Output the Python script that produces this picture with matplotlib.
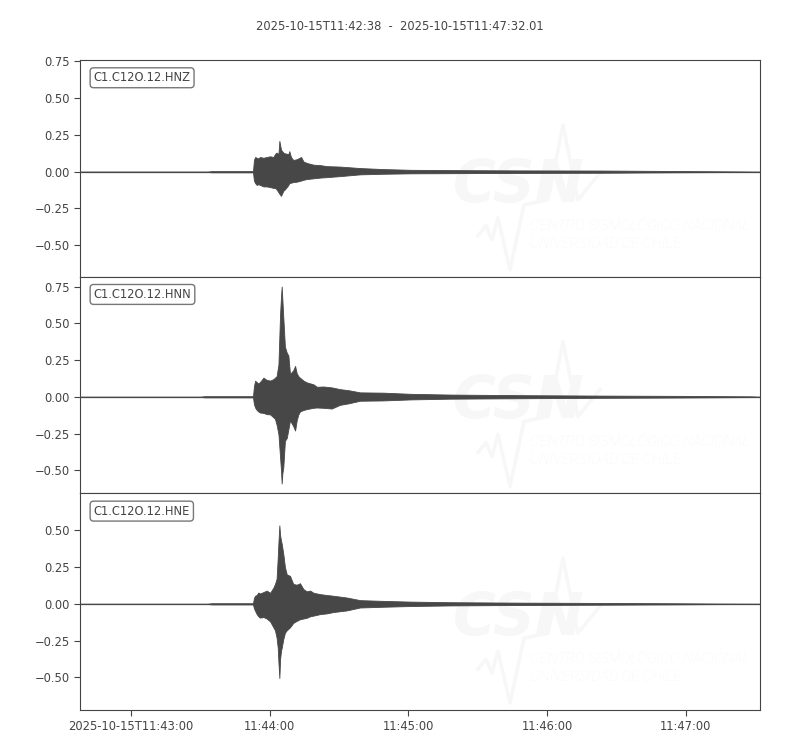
import matplotlib.pyplot as plt

# envelope of each trace
# time in seconds after 2025-10-15T11:42:38, amplitude in trace units
CHANNELS = ["C1.C12O.12.HNZ", "C1.C12O.12.HNN", "C1.C12O.12.HNE"]

hnz_t = [0, 55, 57, 74.8, 75.2, 75.7, 76.4, 77.1, 77.8, 79.3, 80.7, 82.2, 83.6, 84.3,
         85.0, 85.8, 86.2, 86.9, 87.9, 88.6, 90.1, 90.5, 91.2, 92.2, 93.7, 95.6, 96.6,
         98.0, 100.9, 103.8, 106.7, 112.4, 121.1, 131, 143, 160, 190, 225, 256, 285, 294.01]
hnz_up = [0.001, 0.001, 0.004, 0.004, 0.08, 0.10, 0.095, 0.09, 0.10, 0.095, 0.10, 0.105, 0.10, 0.12,
          0.13, 0.12, 0.21, 0.15, 0.13, 0.125, 0.12, 0.14, 0.10, 0.08, 0.085, 0.10, 0.07,
          0.06, 0.048, 0.045, 0.038, 0.035, 0.025, 0.018, 0.013, 0.011, 0.009, 0.008, 0.005, 0.002, 0.001]
hnz_lo = [-0.001, -0.001, -0.004, -0.004, -0.06, -0.077, -0.09, -0.085, -0.09, -0.10, -0.10, -0.105, -0.11, -0.11,
          -0.12, -0.14, -0.15, -0.164, -0.13, -0.12, -0.09, -0.077, -0.075, -0.07, -0.068, -0.06, -0.055,
          -0.05, -0.045, -0.04, -0.037, -0.03, -0.018, -0.014, -0.011, -0.01, -0.008, -0.007, -0.004, -0.002, -0.001]

hnn_t = [0, 52, 54, 74.8, 75.2, 75.7, 76.4, 77.1, 77.8, 79.3, 80.7, 82.2, 83.6, 84.3, 85.0,
         85.8, 86.5, 86.9, 87.2, 87.5, 87.9, 88.6, 89.4, 90.1, 90.8, 92.2, 93.0, 93.7, 94.4,
         95.1, 96.6, 98.0, 100.9, 102.4, 105.2, 108.8, 112.4, 116, 121.1, 131, 143, 160, 190,
         225, 260, 290, 294.01]
hnn_up = [0.001, 0.001, 0.004, 0.004, 0.07, 0.109, 0.10, 0.09, 0.10, 0.13, 0.115, 0.11, 0.12, 0.13, 0.14,
          0.22, 0.56, 0.68, 0.75, 0.66, 0.54, 0.34, 0.30, 0.28, 0.155, 0.18, 0.21, 0.16, 0.14,
          0.13, 0.11, 0.098, 0.085, 0.068, 0.07, 0.064, 0.052, 0.045, 0.03, 0.028, 0.02, 0.015, 0.011,
          0.008, 0.006, 0.003, 0.001]
hnn_lo = [-0.001, -0.001, -0.004, -0.004, -0.05, -0.073, -0.09, -0.10, -0.107, -0.11, -0.118, -0.12, -0.14, -0.15, -0.19,
          -0.254, -0.41, -0.50, -0.59, -0.52, -0.48, -0.30, -0.28, -0.22, -0.16, -0.20, -0.23, -0.16, -0.12,
          -0.10, -0.09, -0.084, -0.075, -0.073, -0.075, -0.08, -0.055, -0.045, -0.027, -0.025, -0.018, -0.013, -0.01,
          -0.007, -0.005, -0.002, -0.001]

hne_t = [0, 55, 57, 74.8, 75.2, 75.7, 76.4, 77.1, 77.8, 79.3, 80.7, 82.2, 83.6, 84.3, 85.0,
         85.5, 85.8, 86.2, 86.5, 86.9, 87.2, 87.9, 88.6, 89.4, 90.8, 92.2, 93.7, 95.1, 96.6,
         98.0, 99.5, 101, 103.8, 106.7, 109.5, 115.3, 121.1, 131, 143, 160, 190, 225, 255,
         275, 294.01]
hne_up = [0.001, 0.001, 0.004, 0.004, 0.04, 0.055, 0.06, 0.077, 0.07, 0.08, 0.09, 0.075, 0.11, 0.135, 0.17,
          0.317, 0.42, 0.534, 0.47, 0.43, 0.41, 0.34, 0.25, 0.20, 0.19, 0.135, 0.13, 0.14, 0.10,
          0.085, 0.09, 0.075, 0.066, 0.06, 0.055, 0.043, 0.025, 0.02, 0.015, 0.011, 0.008, 0.006, 0.004,
          0.002, 0.001]
hne_lo = [-0.001, -0.001, -0.004, -0.004, -0.03, -0.048, -0.07, -0.085, -0.094, -0.09, -0.10, -0.12, -0.16, -0.18, -0.23,
          -0.30, -0.40, -0.505, -0.38, -0.32, -0.30, -0.24, -0.197, -0.18, -0.16, -0.13, -0.116, -0.105, -0.10,
          -0.095, -0.085, -0.08, -0.07, -0.065, -0.056, -0.045, -0.025, -0.02, -0.015, -0.011, -0.008, -0.006, -0.004,
          -0.002, -0.001]

Y_TICKS = [
    [-0.5, -0.25, 0.0, 0.25, 0.5, 0.75],
    [-0.5, -0.25, 0.0, 0.25, 0.5, 0.75],
    [-0.5, -0.25, 0.0, 0.25, 0.5],
]
X_TICKS = [22, 82, 142, 202, 262]
X_LABELS = ["2025-10-15T11:43:00", "11:44:00", "11:45:00", "11:46:00", "11:47:00"]
END_T = 294.01
TITLE = "2025-10-15T11:42:38  -  2025-10-15T11:47:32.01"

GREY = "#444444"
WAVE = "#474747"
MARK = "#f7f7f7"

plt.rcParams["font.family"] = "DejaVu Sans"
plt.rcParams["font.size"] = 8.3
plt.rcParams["text.color"] = GREY
plt.rcParams["xtick.color"] = GREY
plt.rcParams["ytick.color"] = GREY
plt.rcParams["axes.edgecolor"] = GREY


def watermark(ax):
    # faint CSN logo behind the trace
    ax.text(0.549, 0.346, "CSN", transform=ax.transAxes, fontsize=42,
            fontweight="bold", fontstyle="italic", color=MARK, zorder=0)
    ax.text(0.662, 0.217, "CENTRO SISMOLÓGICO NACIONAL", transform=ax.transAxes,
            fontsize=10.5, family="Roboto", fontweight="light", fontstyle="italic",
            color=MARK, zorder=0)
    ax.text(0.662, 0.134, "UNIVERSIDAD DE CHILE", transform=ax.transAxes,
            fontsize=10.5, family="Roboto", fontweight="light", fontstyle="italic",
            color=MARK, zorder=0)
    px = [478, 486, 492, 498, 510, 524, 548, 563, 578, 600]
    py = [236, 226, 240, 218, 270, 205, 200, 125, 200, 173]
    ax.plot([(x - 80) / 680 for x in px], [1 - (y - 60) / 217 for y in py],
            transform=ax.transAxes, color=MARK, lw=2.5, zorder=0)


def generate_plot():
    traces = [(hnz_t, hnz_up, hnz_lo), (hnn_t, hnn_up, hnn_lo), (hne_t, hne_up, hne_lo)]
    half = max(max(up) - min(lo) for _, up, lo in traces) * 1.1 / 2

    fig, axes = plt.subplots(3, 1, figsize=(8, 7.5), dpi=100, sharex=True)
    fig.subplots_adjust(left=0.1, right=0.95, top=0.92, bottom=0.0533, hspace=0)

    for ax, name, (t, up, lo), yt in zip(axes, CHANNELS, traces, Y_TICKS):
        watermark(ax)
        ax.axhline(0, color=WAVE, lw=0.9, zorder=2)
        ax.fill_between(t, lo, up, color=WAVE, lw=0.6, edgecolor=WAVE, zorder=3)
        mid = (max(up) + min(lo)) / 2
        ax.set_ylim(mid - half, mid + half)
        ax.set_yticks(yt)
        ax.set_xlim(0, END_T)
        ax.tick_params(length=4)
        ax.text(0.02, 0.948, name, transform=ax.transAxes, va="top", ha="left", zorder=5,
                bbox=dict(boxstyle="round,pad=0.3", fc="white", ec="#777777", lw=1))
        ax.tick_params(axis="x", bottom=False)

    axes[-1].tick_params(axis="x", bottom=True)
    axes[-1].set_xticks(X_TICKS)
    axes[-1].set_xticklabels(X_LABELS)

    fig.suptitle(TITLE, y=0.973, fontsize=8.3, color=GREY)
    fig.savefig("out.png", dpi=100)
    plt.close(fig)


if __name__ == "__main__":
    generate_plot()
